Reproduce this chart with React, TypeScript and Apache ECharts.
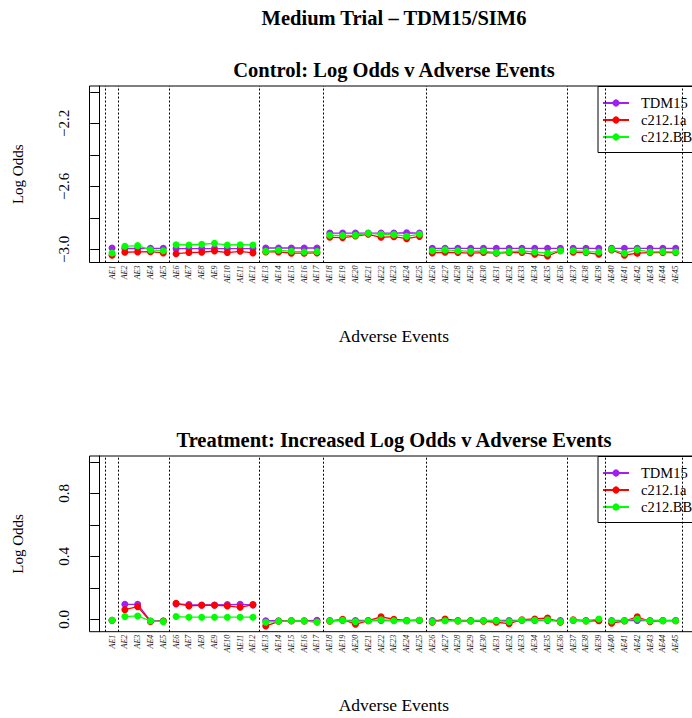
import React, { useEffect, useRef } from "react";
import * as echarts from "echarts";

const categories = [
  "AE1","AE2","AE3","AE4","AE5","AE6","AE7","AE8","AE9","AE10",
  "AE11","AE12","AE13","AE14","AE15","AE16","AE17","AE18","AE19","AE20",
  "AE21","AE22","AE23","AE24","AE25","AE26","AE27","AE28","AE29","AE30",
  "AE31","AE32","AE33","AE34","AE35","AE36","AE37","AE38","AE39","AE40",
  "AE41","AE42","AE43","AE44","AE45",
];

// first AE index of each body-system group (lines break between groups)
const groupStarts = [1, 2, 6, 13, 18, 26, 37, 40];
const separators = [0.5, 1.5, 5.5, 12.5, 17.5, 25.5, 36.5, 39.5, 45.5];

const seriesNames = ["TDM15", "c212.1a", "c212.BB"];
const seriesColors = ["#A020F0", "#FF0000", "#00FF00"];

const ctrlTDM15 = [
  -2.992, -2.995, -2.995, -2.994, -2.994, -2.996, -2.996, -2.996, -2.996, -2.996,
  -2.996, -2.996, -2.992, -2.992, -2.992, -2.992, -2.992, -2.897, -2.897, -2.897,
  -2.897, -2.897, -2.897, -2.895, -2.897, -2.994, -2.994, -2.994, -2.994, -2.994,
  -2.994, -2.994, -2.994, -2.994, -2.994, -2.994, -2.994, -2.994, -2.994, -2.994,
  -2.994, -2.994, -2.994, -2.994, -2.994,
];
const ctrlC212_1a = [
  -3.038, -3.019, -3.017, -3.015, -3.023, -3.028, -3.021, -3.019, -3.011, -3.021,
  -3.013, -3.023, -3.017, -3.017, -3.025, -3.025, -3.023, -2.924, -2.926, -2.916,
  -2.905, -2.924, -2.92, -2.933, -2.918, -3.023, -3.019, -3.021, -3.025, -3.021,
  -3.025, -3.021, -3.021, -3.032, -3.043, -3.009, -3.019, -3.021, -3.032, -3.004,
  -3.038, -3.025, -3.021, -3.021, -3.021,
];
const ctrlC212_BB = [
  -3.024, -2.981, -2.977, -3.004, -3.009, -2.971, -2.973, -2.968, -2.962, -2.973,
  -2.971, -2.973, -3.013, -3.006, -3.013, -3.017, -3.015, -2.911, -2.913, -2.911,
  -2.898, -2.905, -2.907, -2.917, -2.905, -3.009, -3.004, -3.009, -3.013, -3.011,
  -3.021, -3.015, -3.011, -3.017, -3.025, -3.009, -3.009, -3.015, -3.017, -3.0,
  -3.025, -3.004, -3.017, -3.015, -3.017,
];

const trtTDM15 = [
  -0.006, 0.095, 0.095, -0.011, -0.011, 0.097, 0.093, 0.091, 0.091, 0.093,
  0.095, 0.091, -0.009, -0.009, -0.009, -0.009, -0.007, -0.008, -0.008, -0.008,
  -0.008, -0.008, -0.008, -0.008, -0.008, -0.008, -0.008, -0.008, -0.008, -0.008,
  -0.008, -0.008, -0.008, -0.008, -0.008, -0.008, -0.008, -0.008, -0.008, -0.008,
  -0.008, -0.008, -0.008, -0.008, -0.008,
];
const trtC212_1a = [
  -0.006, 0.061, 0.08, -0.015, -0.011, 0.101, 0.085, 0.089, 0.089, 0.085,
  0.076, 0.093, -0.043, -0.013, -0.009, -0.011, -0.017, -0.013, 0.0, -0.032,
  -0.009, 0.015, 0.0, -0.009, -0.006, -0.019, 0.002, -0.011, -0.011, -0.013,
  -0.019, -0.028, -0.003, 0.002, 0.008, -0.019, -0.003, -0.011, -0.009, -0.025,
  -0.011, 0.015, -0.015, -0.009, -0.009,
];
const trtC212_BB = [
  -0.006, 0.017, 0.021, -0.011, -0.015, 0.017, 0.013, 0.013, 0.013, 0.013,
  0.013, 0.013, -0.019, -0.013, -0.009, -0.011, -0.017, -0.011, -0.006, -0.015,
  -0.009, -0.004, -0.009, -0.009, -0.006, -0.015, -0.009, -0.011, -0.011, -0.009,
  -0.009, -0.015, -0.006, -0.006, -0.004, -0.015, -0.006, -0.011, 0.002, -0.011,
  -0.009, 0.002, -0.011, -0.009, -0.009,
];

const ctrlTicks = [-3.0, -2.8, -2.6, -2.4, -2.2, -2.0];
const ctrlLabels = [-3.0, -2.6, -2.2];
const trtTicks = [0.0, 0.2, 0.4, 0.6, 0.8, 1.0];
const trtLabels = [0.0, 0.4, 0.8];

const SERIF = "'Liberation Serif', 'DejaVu Serif', serif";

function buildData(values: number[]) {
  const out: any[] = [];
  values.forEach((v, i) => {
    const x = i + 1;
    if (x > 1 && groupStarts.includes(x)) out.push([x - 0.5, "-"]);
    out.push([x, v]);
  });
  return out;
}

const fmtNum = (v: number) => (v < -1e-9 ? "\u2212" : "") + Math.abs(v).toFixed(1);

export default function App() {
  const ref = useRef<HTMLDivElement>(null);
  useEffect(() => {
    if (!ref.current) return;
    const chart = echarts.init(ref.current, undefined, { renderer: "svg" });
    const gridLeft = 89.5;
    const gridWidth = 608.7;
    const grids = [
      { left: gridLeft, top: 86, width: gridWidth, height: 176.5 },
      { left: gridLeft, top: 456, width: gridWidth, height: 175.7 },
    ];
    const yRanges = [
      { min: -3.084, max: -1.963, ticks: ctrlTicks, labels: ctrlLabels },
      { min: -0.079, max: 1.037, ticks: trtTicks, labels: trtLabels },
    ];
    const xAxis = grids.map((_, gi) => ({
      type: "value",
      gridIndex: gi,
      min: -0.76,
      max: 46.76,
      name: "Adverse Events",
      nameLocation: "middle",
      nameGap: 64,
      nameTextStyle: { fontFamily: SERIF, fontSize: 17.5, color: "#000" },
      axisLine: { show: false },
      axisTick: { show: false },
      splitLine: { show: false },
      axisLabel: {
        customValues: categories.map((_, i) => i + 1),
        formatter: (v: number) => categories[Math.round(v) - 1] || "",
        rotate: 90,
        fontSize: 8,
        fontStyle: "italic",
        fontFamily: SERIF,
        color: "#222",
        margin: 3,
      },
    }));
    const yAxis = yRanges.map((r, gi) => ({
      type: "value",
      gridIndex: gi,
      min: r.min,
      max: r.max,
      name: "Log Odds",
      nameLocation: "middle",
      nameRotate: 90,
      nameGap: 64,
      nameTextStyle: { fontFamily: SERIF, fontSize: 15, color: "#000" },
      axisLine: { show: true, lineStyle: { color: "#000", width: 1 } },
      axisTick: {
        show: true,
        length: 9,
        customValues: r.ticks,
        lineStyle: { color: "#000", width: 1 },
      },
      splitLine: { show: false },
      axisLabel: {
        customValues: r.labels,
        formatter: fmtNum,
        rotate: 90,
        fontSize: 15,
        fontFamily: SERIF,
        color: "#000",
        margin: 18,
      },
    }));
    const datasets = [
      [ctrlTDM15, ctrlC212_1a, ctrlC212_BB],
      [trtTDM15, trtC212_1a, trtC212_BB],
    ];
    const series: any[] = [];
    datasets.forEach((set, gi) => {
      set.forEach((vals, si) => {
        series.push({
          type: "line",
          name: seriesNames[si],
          xAxisIndex: gi,
          yAxisIndex: gi,
          data: buildData(vals),
          connectNulls: false,
          symbol: "circle",
          symbolSize: 7,
          showSymbol: true,
          itemStyle: { color: seriesColors[si] },
          lineStyle: { color: seriesColors[si], width: 1.3 },
          z: 3 + si,
          markLine:
            si === 0
              ? {
                  silent: true,
                  symbol: "none",
                  label: { show: false },
                  lineStyle: { color: "#000", width: 1, type: [2, 2] },
                  data: separators.map((s) => ({ xAxis: s })),
                }
              : undefined,
        });
      });
    });
    const legendBase = {
      orient: "vertical",
      left: 598,
      data: seriesNames,
      borderColor: "#000",
      borderWidth: 1,
      backgroundColor: "#fff",
      padding: [9, 10, 8, 4],
      itemWidth: 26,
      itemHeight: 9,
      itemGap: 2,
      textStyle: {
        fontFamily: SERIF,
        fontSize: 14.5,
        color: "#000",
        padding: [0, 0, 0, 7],
      },
      selectedMode: false,
    };
    const titleStyle = { fontFamily: SERIF, fontSize: 20.5, fontWeight: "bold", color: "#000" };
    chart.setOption({
      animation: false,
      backgroundColor: "#fff",
      title: [
        {
          text: "Medium Trial \u2013 TDM15/SIM6",
          left: 394,
          top: 7,
          textAlign: "center",
          padding: 0,
          textStyle: titleStyle,
        },
        {
          text: "Control: Log Odds v Adverse Events",
          left: 394,
          top: 59,
          textAlign: "center",
          padding: 0,
          textStyle: titleStyle,
        },
        {
          text: "Treatment: Increased Log Odds v Adverse Events",
          left: 394,
          top: 429,
          textAlign: "center",
          padding: 0,
          textStyle: titleStyle,
        },
      ],
      legend: [
        { ...legendBase, top: 86.5 },
        { ...legendBase, top: 456.5 },
      ],
      grid: grids.map((g) => ({
        ...g,
        show: true,
        borderColor: "#000",
        borderWidth: 1,
        backgroundColor: "transparent",
      })),
      xAxis,
      yAxis,
      series,
    });
    return () => chart.dispose();
  }, []);
  return (
    <div
      style={{
        position: "fixed",
        left: 0,
        top: 0,
        width: 692,
        height: 718,
        overflow: "hidden",
        background: "#fff",
      }}
    >
      <div ref={ref} style={{ width: 720, height: 718 }} />
    </div>
  );
}
